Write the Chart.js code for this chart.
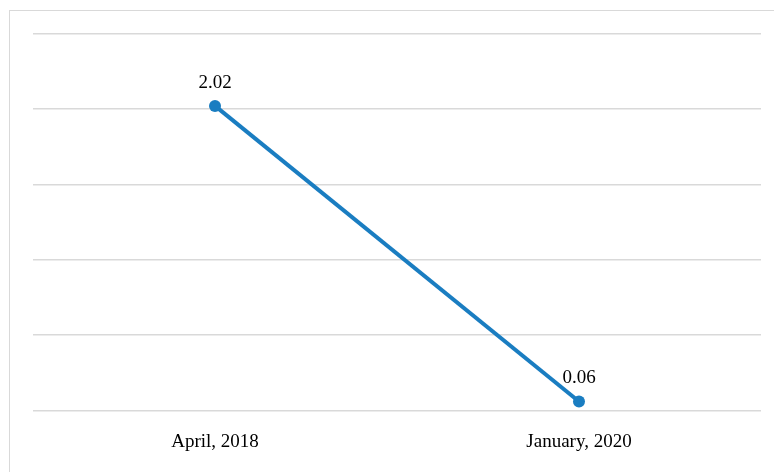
<!DOCTYPE html>
<html>
<head>
<meta charset="utf-8">
<script src="https://cdn.jsdelivr.net/npm/chart.js@4/dist/chart.umd.min.js"></script>
<style>
  html, body { margin: 0; padding: 0; background: #ffffff; overflow: hidden; }
  #wrap { position: relative; width: 774px; height: 472px; }
  #frame { position: absolute; left: 9px; top: 10px; width: 800px; height: 500px; border: 1.5px solid #d9d9d9; box-sizing: border-box; }
  canvas { position: absolute; left: 0; top: 0; }
</style>
</head>
<body>
<div id="wrap">
  <div id="frame"></div>
  <canvas id="c" width="774" height="472"></canvas>
</div>
<script>
const categories = ["April, 2018", "January, 2020"];
const values = [2.02, 0.06];
const valueLabels = ["2.02", "0.06"];

const lineColor = "#1a7dc1";
const fontFamily = "'Liberation Serif', 'Times New Roman', serif";

const dataLabelPlugin = {
  id: "dataLabels",
  afterDatasetsDraw(chart) {
    const ctx = chart.ctx;
    const meta = chart.getDatasetMeta(0);
    ctx.save();
    ctx.font = "19px " + fontFamily;
    ctx.fillStyle = "#000000";
    ctx.textAlign = "center";
    ctx.textBaseline = "middle";
    meta.data.forEach((pt, i) => {
      ctx.fillText(valueLabels[i], pt.x, pt.y - 23);
    });
    ctx.restore();
  }
};

new Chart(document.getElementById("c"), {
  type: "line",
  data: {
    labels: categories,
    datasets: [{
      data: values,
      borderColor: lineColor,
      backgroundColor: lineColor,
      borderWidth: 4,
      pointRadius: 6,
      pointBackgroundColor: lineColor,
      pointBorderColor: lineColor,
      pointBorderWidth: 0,
      tension: 0,
      fill: false
    }]
  },
  options: {
    responsive: false,
    animation: false,
    devicePixelRatio: 1,
    layout: { padding: { left: 33, right: 13, top: 33.5, bottom: 0 } },
    plugins: { legend: { display: false }, tooltip: { enabled: false } },
    scales: {
      x: {
        offset: true,
        grid: { display: false, drawTicks: false },
        border: { display: false },
        ticks: { color: "#000000", font: { family: fontFamily, size: 19 }, padding: 20 },
        afterFit: (s) => { s.height = 61.5; }
      },
      y: {
        min: 0, max: 2.5,
        ticks: { display: false, stepSize: 0.5 },
        grid: { color: "#d9d9d9", lineWidth: 1.5, drawTicks: false },
        border: { display: false }
      }
    }
  },
  plugins: [dataLabelPlugin]
});
</script>
</body>
</html>
